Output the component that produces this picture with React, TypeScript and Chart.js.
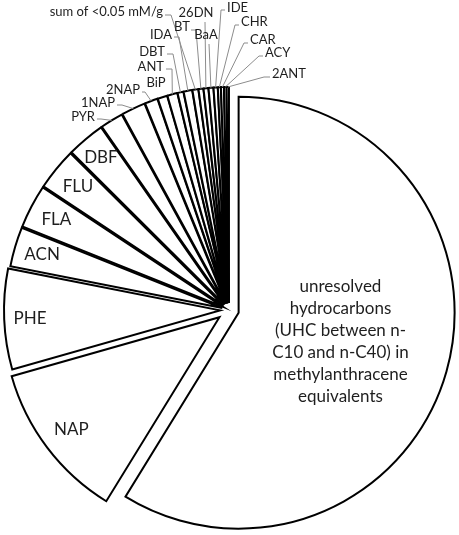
import { useEffect, useRef } from "react";
import { Chart, registerables } from "chart.js";

Chart.register(...registerables);

// ---- data ----
const categories = [
  "unresolved\nhydrocarbons\n(UHC between n-\nC10 and n-C40) in\nmethylanthracene\nequivalents",
  "NAP", "PHE", "ACN", "FLA", "FLU", "DBF", "PYR", "1NAP", "2NAP", "BiP", "ANT", "DBT", "IDA",
  "sum of <0.05 mM/g", "BT", "26DN", "BaA", "IDE", "CHR", "CAR", "ACY", "2ANT",
];
const shares = [
  58.7, 11.8, 7.5, 2.95, 3.25, 3.15, 2.85, 1.72, 1.8, 0.97, 0.72, 0.75, 0.44, 0.64,
  0.44, 0.36, 0.36, 0.36, 0.31, 0.22, 0.22, 0.19, 0.17,
];

// ---- style / layout ----
const EXPLODE = [10, 12, 9, 7, 7, 7, 7, 7, 7, 7, 7, 7, 7, 7, 7, 7, 7, 7, 7, 7, 7, 7, 7];

type LabelSpec =
  | { kind: "in"; r: number }
  | { kind: "out"; x: number; y: number; align: "left" | "right" | "center"; lead?: [number, number, number] };

const LABEL_LAYOUT: LabelSpec[] = [
  { kind: "in", r: 0.49 },
  { kind: "in", r: 0.86 },
  { kind: "in", r: 0.88 },
  { kind: "in", r: 0.87 },
  { kind: "in", r: 0.87 },
  { kind: "in", r: 0.87 },
  { kind: "in", r: 0.89 },
  { kind: "out", x: 95, y: 117, align: "right", lead: [97, 119, 4] },
  { kind: "out", x: 115, y: 103, align: "right", lead: [117, 105, 5] },
  { kind: "out", x: 140, y: 90, align: "right", lead: [142, 92, 3] },
  { kind: "out", x: 156, y: 83, align: "center" },
  { kind: "out", x: 164, y: 67, align: "right", lead: [166, 69, 6] },
  { kind: "out", x: 165, y: 52, align: "right", lead: [167, 54, 6] },
  { kind: "out", x: 172, y: 35, align: "right", lead: [174, 37, 5] },
  { kind: "out", x: 163, y: 12, align: "right", lead: [165, 15, 6] },
  { kind: "out", x: 190, y: 27, align: "right", lead: [191, 30, 5] },
  { kind: "out", x: 196, y: 13, align: "center", lead: [205, 22, 0] },
  { kind: "out", x: 206, y: 35, align: "center", lead: [209, 44, 0] },
  { kind: "out", x: 227, y: 8, align: "left", lead: [225, 10, -4] },
  { kind: "out", x: 241, y: 22, align: "left", lead: [239, 25, -4] },
  { kind: "out", x: 250, y: 40, align: "left", lead: [248, 43, -4] },
  { kind: "out", x: 265, y: 53, align: "left", lead: [263, 56, -4] },
  { kind: "out", x: 272, y: 74, align: "left", lead: [270, 77, -6] },
];

const FONT = "Lato, 'Open Sans', sans-serif";
const TEXT_COLOR = "#1e1e1e";
const LEADER_COLOR = "#8c8c8c";

const explodePlugin = {
  id: "explodeDraw",
  beforeDatasetDraw(chart: any, args: any) {
    const ctx = chart.ctx;
    args.meta.data.forEach((arc: any, i: number) => {
      const d = EXPLODE[i] || 0;
      const mid = (arc.startAngle + arc.endAngle) / 2;
      ctx.save();
      ctx.translate(Math.cos(mid) * d, Math.sin(mid) * d);
      arc.draw(ctx, chart.chartArea);
      ctx.restore();
    });
    return false;
  },
};

const labelPlugin = {
  id: "sliceLabels",
  afterDatasetsDraw(chart: any) {
    const ctx = chart.ctx;
    const meta = chart.getDatasetMeta(0);
    meta.data.forEach((arc: any, i: number) => {
      const spec = LABEL_LAYOUT[i];
      const d = EXPLODE[i] || 0;
      const mid = (arc.startAngle + arc.endAngle) / 2;
      const cx = arc.x + Math.cos(mid) * d;
      const cy = arc.y + Math.sin(mid) * d;
      const R = arc.outerRadius;
      const text = categories[i];
      ctx.save();
      ctx.fillStyle = TEXT_COLOR;
      ctx.textBaseline = "middle";
      if (spec.kind === "in") {
        const lines = text.split("\n");
        const px = cx + Math.cos(mid) * R * spec.r;
        const py = cy + Math.sin(mid) * R * spec.r;
        ctx.font = `17px ${FONT}`;
        ctx.textAlign = "center";
        const lh = 22;
        lines.forEach((ln: string, k: number) => {
          ctx.fillText(ln, px, py + (k - (lines.length - 1) / 2) * lh);
        });
      } else {
        const ex = cx + Math.cos(mid) * R;
        const ey = cy + Math.sin(mid) * R;
        if (spec.lead) {
          const [sx, sy, h] = spec.lead;
          ctx.strokeStyle = LEADER_COLOR;
          ctx.lineWidth = 1;
          ctx.beginPath();
          ctx.moveTo(sx, sy);
          ctx.lineTo(sx + h, sy);
          ctx.lineTo(ex, ey);
          ctx.stroke();
        }
        ctx.font = `13px ${FONT}`;
        ctx.textAlign = spec.align;
        ctx.fillText(text, spec.x, spec.y);
      }
      ctx.restore();
    });
  },
};

export default function App() {
  const ref = useRef<HTMLCanvasElement | null>(null);
  useEffect(() => {
    if (!ref.current) return;
    const chart = new Chart(ref.current, {
      type: "pie",
      data: {
        labels: categories,
        datasets: [
          {
            data: shares,
            backgroundColor: "#ffffff",
            borderColor: "#000000",
            borderWidth: 2,
            borderJoinStyle: "miter",
            radius: 216,
          } as any,
        ],
      },
      options: {
        responsive: false,
        animation: false,
        events: [],
        layout: { padding: { left: 0, right: 1, top: 85, bottom: 0 } },
        plugins: { legend: { display: false }, tooltip: { enabled: false } },
      },
      plugins: [explodePlugin, labelPlugin],
    });
    return () => chart.destroy();
  }, []);
  return (
    <div style={{ position: "absolute", left: 0, top: 0, width: 459, height: 535, background: "#fff" }}>
      <canvas ref={ref} width={459} height={535} style={{ display: "block" }} />
    </div>
  );
}
